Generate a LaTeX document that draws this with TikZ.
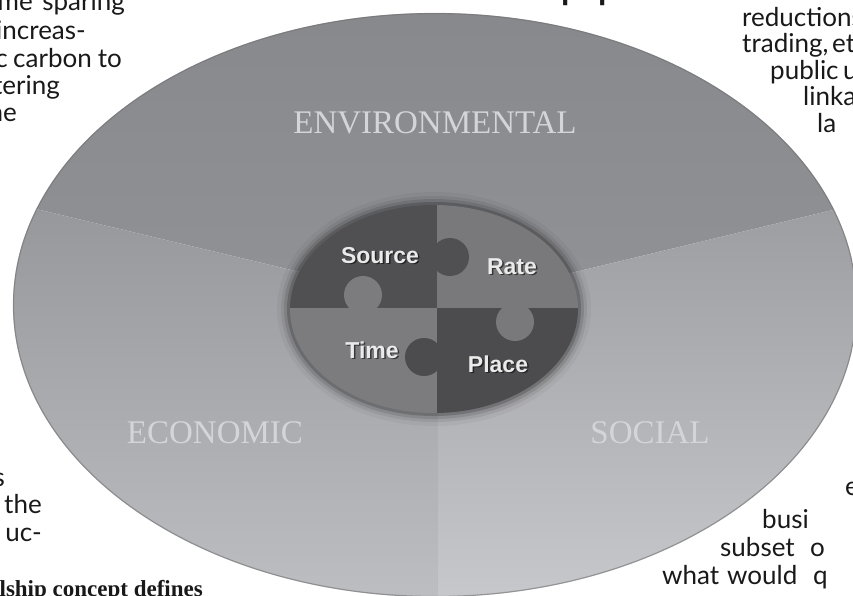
\documentclass[tikz,border=0pt]{standalone}
\usepackage{fontspec}
\setmainfont{Liberation Serif}
\newfontfamily\bodyfont{Lato}
\newfontfamily\puzfont{Liberation Sans}
\newfontfamily\serifb{Liberation Serif}
\definecolor{envtop}{RGB}{135,136,140}
\definecolor{envbot}{RGB}{145,146,150}
\definecolor{ecotop}{RGB}{150,151,155}
\definecolor{ecobot}{RGB}{190,191,195}
\definecolor{soctop}{RGB}{156,157,161}
\definecolor{socbot}{RGB}{200,201,205}
\definecolor{pdark}{RGB}{80,80,82}
\definecolor{pdarkb}{RGB}{76,76,78}
\definecolor{pmid}{RGB}{121,121,123}
\definecolor{pmidb}{RGB}{124,124,126}
\definecolor{plabel}{RGB}{234,234,234}
\definecolor{seclabel}{RGB}{212,213,216}
\definecolor{bodytext}{RGB}{25,25,25}
\begin{document}
\begin{tikzpicture}[x=1pt,y=-1pt,
  body/.style={font=\bodyfont\fontsize{26}{30}\selectfont, text=bodytext, inner sep=0pt},
  bw/.style={body, anchor=base west},
  be/.style={body, anchor=base east},
  headtxt/.style={font=\serifb\bfseries\fontsize{23}{28}\selectfont, text=bodytext, inner sep=0pt},
  pfrag/.style={font=\puzfont\bfseries\fontsize{30}{34}\selectfont, text=bodytext, inner sep=0pt, anchor=base west},
  seclab/.style={font=\serifb\fontsize{33}{40}\selectfont, text=seclabel, inner sep=0pt, anchor=base},
  puzlab/.style={font=\puzfont\bfseries\fontsize{23}{28}\selectfont, text=plabel, inner sep=0pt, anchor=base},
  puzshadow/.style={puzlab, text=black, opacity=0.55},
]
\useasboundingbox (0,0) rectangle (853,595);
\clip (0,0) rectangle (853,595);

% big disc with three sectors
\begin{scope}
  \clip (435,305) ellipse [x radius=422pt, y radius=292pt];
  \shade[top color=envtop, bottom color=envbot]
    (438,305) -- (-10,198) -- (-10,-10) -- (870,-10) -- (870,201) -- cycle;
  \shade[top color=ecotop, bottom color=ecobot]
    (438,305) -- (-10,198) -- (-10,610) -- (438,610) -- cycle;
  \shade[top color=soctop, bottom color=socbot]
    (438,305) -- (438,610) -- (870,610) -- (870,201) -- cycle;
\end{scope}
\draw[black!55, line width=1.2pt, opacity=0.6] (435,305) ellipse [x radius=421.5pt, y radius=291.5pt];

% halo around the puzzle
\fill[black, opacity=0.04] (434,309) ellipse [x radius=157pt, y radius=117pt];
\fill[black, opacity=0.07] (434,309) ellipse [x radius=153pt, y radius=113pt];
\fill[black, opacity=0.11] (434,309) ellipse [x radius=150pt, y radius=110pt];
\fill[black, opacity=0.18] (434,309) ellipse [x radius=147pt, y radius=107pt];

% puzzle
\begin{scope}
  \clip (434,309) ellipse [x radius=144pt, y radius=104pt];
  \fill[pdark] (280,190) rectangle (437,308);
  \fill[pmid] (437,190) rectangle (590,308);
  \fill[pmidb] (280,308) rectangle (437,420);
  \fill[pdarkb] (437,308) rectangle (590,420);
  \fill[pdark] (450,257) circle [radius=19pt];
  \fill[pmidb] (363,295) circle [radius=19pt];
  \fill[pdarkb] (424,357) circle [radius=19pt];
  \fill[pmid] (515,322) circle [radius=19pt];
\end{scope}

% puzzle labels
\node[puzshadow] (srcs) at (381.5,264.5) {Source};
\node[puzlab] (src) at (380,263) {Source};
\node[puzshadow] (rates) at (513.5,275.5) {Rate};
\node[puzlab] (rate) at (512,274) {Rate};
\node[puzshadow] (times) at (373.5,359.5) {Time};
\node[puzlab] (time) at (372,358) {Time};
\node[puzshadow] (places) at (499.5,373.5) {Place};
\node[puzlab] (place) at (498,372) {Place};

% sector labels
\node[seclab] (env) at (435,133) {ENVIRONMENTAL};
\node[seclab] (eco) at (215,443) {ECONOMIC};
\node[seclab] (soc) at (650,443) {SOCIAL};

% surrounding body text fragments (justified text, cut by the picture's edge)
\node[be] (tl1a) at (33,10) {ime};
\node[be] (tl1b) at (125,10) {sparing};
\node[be] (tl2) at (86,39) {increas-};
\node[be] (tl3a) at (8,67) {c};
\node[be] (tl3b) at (92,67) {carbon};
\node[be] (tl3c) at (122,67) {to};
\node[be] (tl4) at (60,94) {tering};
\node[be] (tl5) at (17,121) {ne};

\node[bw] (tr1) at (742,26) {reductions};
\node[bw] (tr2a) at (742,52.5) {trading,};
\node[bw] (tr2b) at (832,52.5) {et};
\node[bw] (tr3a) at (770,79) {public};
\node[bw] (tr3b) at (843,79) {u};
\node[bw] (tr4) at (803,105.5) {linka};
\node[bw] (tr5) at (817,132) {la};

\node[be] (bl1) at (5,486) {s};
\node[be] (bl2) at (42,513) {the};
\node[be] (bl3) at (42,541) {uc-};
\node[headtxt, anchor=base east] (bl4) at (203,596) {lship concept defines};

\node[bw] (br1) at (845,495) {e};
\node[bw] (br2) at (762,528) {busi};
\node[bw] (br3a) at (720,556) {subset};
\node[bw] (br3b) at (810,556) {o};
\node[bw] (br4a) at (662,584) {what};
\node[bw] (br4b) at (727,584) {would};
\node[bw] (br4c) at (813,584) {q};

% descender fragments of a heading above the picture
\node[pfrag] (p1) at (561,-1) {p};
\node[pfrag] (p2) at (598,-1) {p};
\end{tikzpicture}
\end{document}
